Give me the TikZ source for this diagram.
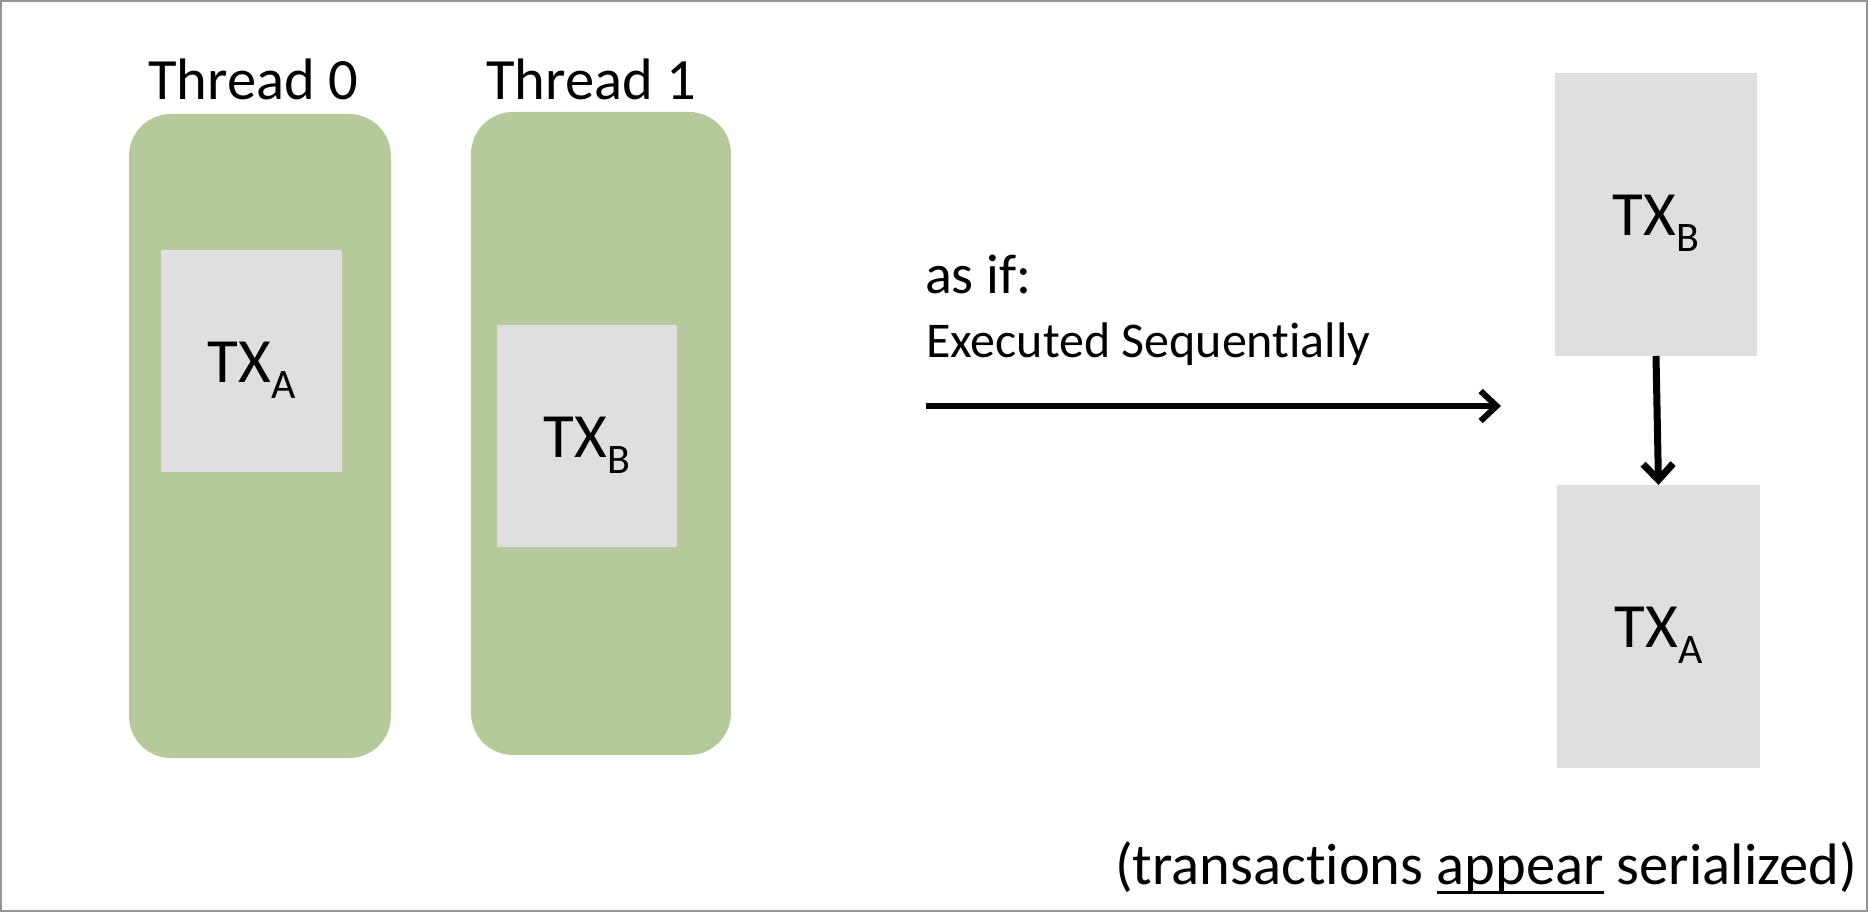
\documentclass[tikz,border=0pt]{standalone}
\usepackage{fontspec}
\setmainfont{Carlito}[RawFeature={-liga;-clig;-calt;-dlig}]
\usetikzlibrary{arrows.meta}
\definecolor{thrgreen}{RGB}{181,201,154}
\definecolor{txgray}{RGB}{223,223,223}
\definecolor{framegray}{RGB}{150,150,150}
\newcommand\myul[1]{\setbox0\hbox{#1}\rlap{\rule[-10pt]{\wd0}{3pt}}\box0\relax}
\newcommand\txlab[2]{\fontsize{63}{70}\selectfont #1\raisebox{-16pt}{\fontsize{42}{46}\selectfont #2}}
\tikzset{
  threadbox/.style={fill=thrgreen, draw=none, rounded corners=42pt},
  graybox/.style={fill=txgray, draw=none, inner sep=0pt, outer sep=0pt},
  lbl/.style={inner sep=0pt, outer sep=0pt},
  bigarrow/.style={line width=6pt, -{Straight Barb[length=16pt,width=30pt]}},
}
\begin{document}
\begin{tikzpicture}[x=1pt,y=-1pt]
\useasboundingbox (0,0) rectangle (1868,912);
\draw[framegray, line width=2pt] (1,1) rectangle (1867,911);
% threads
\node[threadbox, inner sep=0pt, minimum width=262pt, minimum height=644pt] (t0) at (260,436) {};
\node[threadbox, inner sep=0pt, minimum width=260pt, minimum height=643pt] (t1) at (601,433.5) {};
\node[lbl, anchor=base] (t0lab) at (253,100) {\fontsize{58.5}{64}\selectfont Thread 0};
\node[lbl, anchor=base] (t1lab) at (591,100) {\fontsize{58.5}{64}\selectfont Thread 1};
% TX boxes in threads
\node[graybox, minimum width=181pt, minimum height=222pt] (txa) at (251.5,361) {};
\node[graybox, minimum width=180pt, minimum height=222pt] (txb) at (587,436) {};
\node[lbl, anchor=base] (txalab) at ([yshift=-21pt]txa.center) {\txlab{TX}{A}};
\node[lbl, anchor=base] (txblab) at ([yshift=-21pt]txb.center) {\txlab{TX}{B}};
% as if
\node[lbl, anchor=base west] (asif) at (925,293) {\fontsize{56}{62}\selectfont as if:};
\node[lbl, anchor=base west] (exec) at (926,357) {\fontsize{50}{56}\selectfont Executed Sequent\kern0pt ially};
\coordinate (hs) at (926,406);
\coordinate (he) at (1501,406);
\draw[bigarrow] (hs) -- (he);
% serialized boxes
\node[graybox, minimum width=202pt, minimum height=283pt] (rb) at (1656,214.5) {};
\node[graybox, minimum width=203pt, minimum height=283pt] (ra) at (1658.5,626.5) {};
\node[lbl, anchor=base] (rblab) at ([yshift=-21pt]rb.center) {\txlab{TX}{B}};
\node[lbl, anchor=base] (ralab) at ([yshift=-21pt]ra.center) {\txlab{TX}{A}};
\draw[bigarrow, line width=7pt] (rb.south) -- (ra.north);
% bottom note
\node[lbl, anchor=base east] (note) at (1857,884) {\fontsize{58.5}{64}\selectfont (transact\kern0pt ions \myul{appear} serialized)};
\end{tikzpicture}
\end{document}
